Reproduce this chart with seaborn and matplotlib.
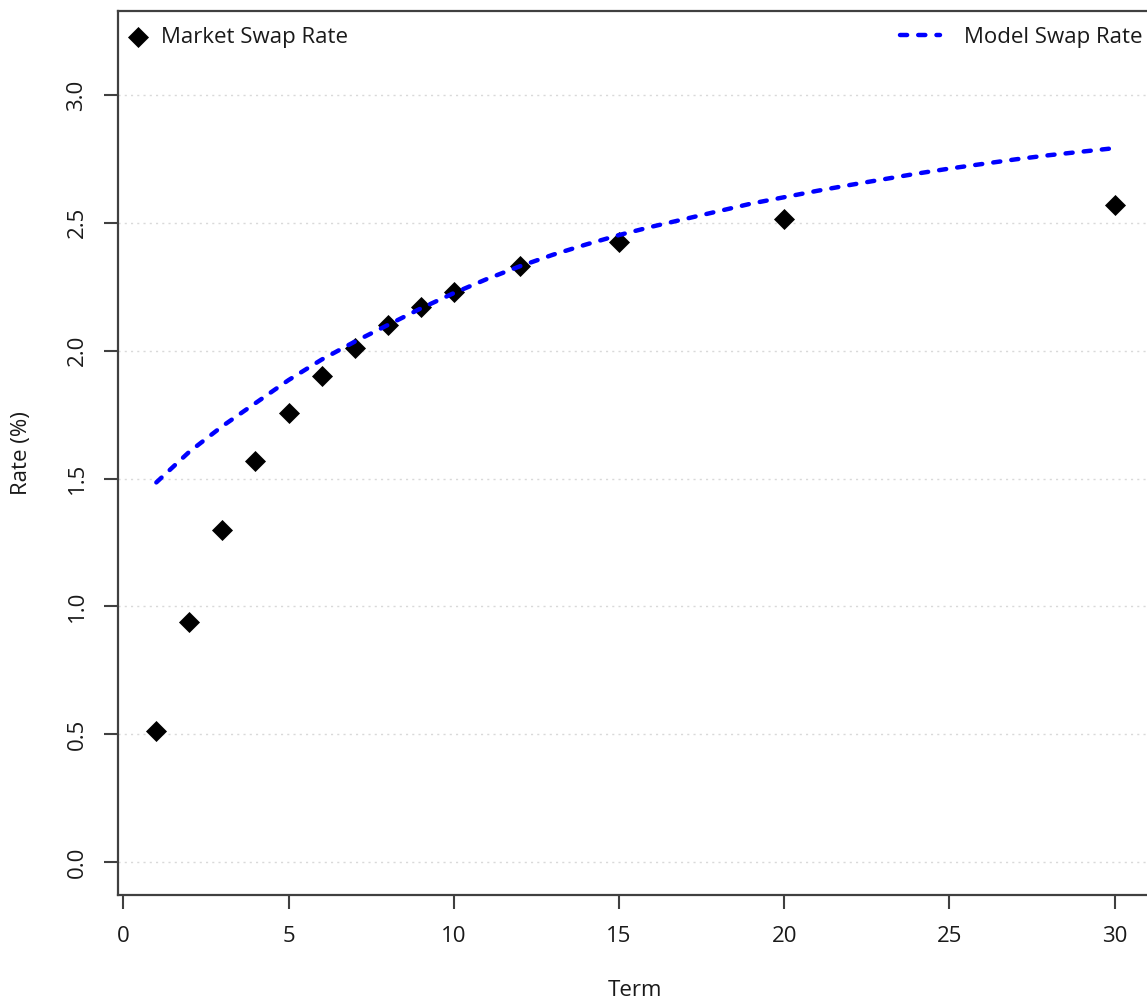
import matplotlib
matplotlib.use("Agg")
import matplotlib.pyplot as plt
import pandas as pd
import seaborn as sns

# Market quotes (term in years, rate in %)
market_terms = [1, 2, 3, 4, 5, 6, 7, 8, 9, 10, 12, 15, 20, 30]
market_rates = [0.513, 0.94, 1.30, 1.57, 1.757, 1.90, 2.01, 2.10, 2.17, 2.23, 2.33, 2.425, 2.515, 2.57]

# Model curve
model_terms = list(range(1, 31))
model_rates = [1.485, 1.605, 1.705, 1.795, 1.885, 1.965, 2.035, 2.10, 2.165, 2.225,
               2.28, 2.33, 2.375, 2.415, 2.452, 2.485, 2.515, 2.545, 2.575, 2.60,
               2.625, 2.648, 2.67, 2.692, 2.712, 2.73, 2.748, 2.764, 2.778, 2.792]

x_ticks = [0, 5, 10, 15, 20, 25, 30]
y_ticks = [0.0, 0.5, 1.0, 1.5, 2.0, 2.5, 3.0]

df_market = pd.DataFrame({"term": market_terms, "rate": market_rates})
df_model = pd.DataFrame({"term": model_terms, "rate": model_rates})

sns.set_theme(style="ticks")
plt.rcParams["font.family"] = ["Open Sans", "DejaVu Sans"]
fs = 16
dark = "#404040"
txt = "#1a1a1a"

W, H = 1147, 1000
fig = plt.figure(figsize=(W / 100, H / 100), dpi=100)
ax = fig.add_axes([118 / W, (H - 895) / H, (1153 - 118) / W, (895 - 11) / H])

# Grid first
for yv in y_ticks:
    ax.axhline(yv, color="#d9d9d9", lw=1, linestyle=(0, (1.5, 3)), zorder=0)

sns.scatterplot(data=df_market, x="term", y="rate", marker="D", s=115, color="black",
                linewidth=0, label="Market Swap Rate", ax=ax, zorder=3)
sns.lineplot(data=df_model, x="term", y="rate", color="#0000ff", lw=3.2,
             linestyle=(0, (1.6, 2.5)), dash_capstyle="round",
             label="Model Swap Rate", ax=ax, zorder=4)
if ax.get_legend() is not None:
    ax.get_legend().remove()

ax.set_xlim(-0.16, 31.16)
ax.set_ylim(-0.128, 3.328)
ax.set_xticks(x_ticks)
ax.set_yticks(y_ticks)
ax.set_xticklabels([str(v) for v in x_ticks])
ax.set_yticklabels([f"{v:.1f}" for v in y_ticks])

for side in ["left", "bottom", "top", "right"]:
    ax.spines[side].set_color(dark)
    ax.spines[side].set_linewidth(1.6)

ax.tick_params(direction="out", length=10, width=1.5, color=dark, labelsize=fs,
               labelcolor=txt)
ax.tick_params(axis="x", pad=12)
ax.tick_params(axis="y", pad=12)
for lbl in ax.get_yticklabels():
    lbl.set_rotation(90)
    lbl.set_va("center")

ax.set_xlabel("Term", fontsize=fs, color=txt, va="center")
ax.xaxis.set_label_coords(0.5, (895 - 990) / 884)
ax.set_ylabel("Rate (%)", fontsize=fs, color=txt, va="center")
ax.yaxis.set_label_coords((22 - 118) / 1035, 0.5)

handles, labels = ax.get_legend_handles_labels()
leg1 = ax.legend([handles[0]], [labels[0]], loc="upper left",
                 bbox_to_anchor=(0, 1 - 16 / 884), frameon=False, fontsize=fs,
                 borderaxespad=0, borderpad=0, handlelength=1.8, handletextpad=0.15,
                 labelcolor=txt)
ax.add_artist(leg1)
ax.legend([handles[1]], [labels[1]], loc="upper right",
          bbox_to_anchor=((1143 - 118) / 1035, 1 - 16 / 884), frameon=False, fontsize=fs,
          borderaxespad=0, borderpad=0, handlelength=1.8, handletextpad=1.1,
          labelcolor=txt)

fig.savefig("out.png", dpi=100)
